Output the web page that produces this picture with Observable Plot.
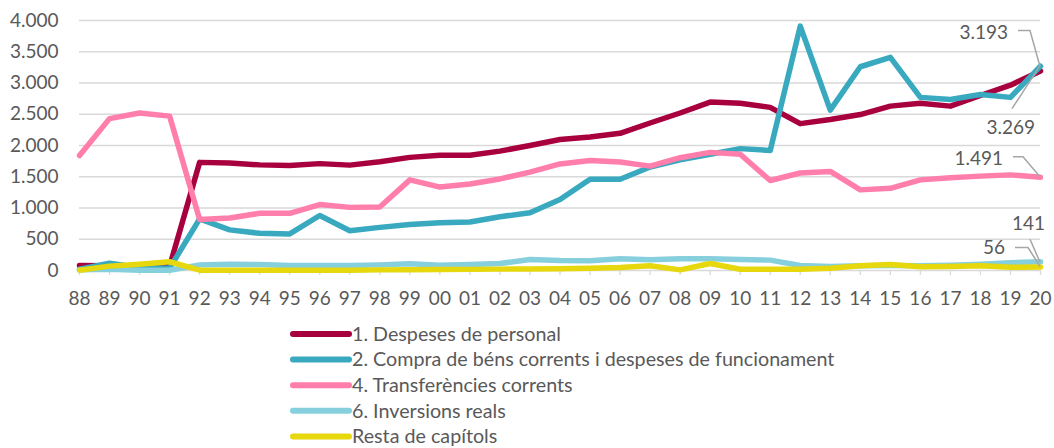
<!DOCTYPE html>
<html><head><meta charset="utf-8">
<script src="https://cdn.jsdelivr.net/npm/d3@7"></script>
<script src="https://cdn.jsdelivr.net/npm/@observablehq/plot@0.6"></script>
<style>
body{margin:0;background:#fff;font-family:Lato,sans-serif}
#wrap{position:relative;width:1054px;height:448px;overflow:hidden}
</style>
</head><body><div id="wrap"></div>
<script>
const years = d3.range(1988, 2021);
const despesesPersonal = [80,75,70,65,1730,1720,1690,1680,1710,1686,1740,1810,1845,1845,1910,2000,2095,2135,2195,2360,2520,2695,2675,2610,2350,2415,2495,2630,2675,2630,2800,2965,3193];
const compraBens = [20,115,50,35,825,650,595,585,880,635,690,735,765,775,860,925,1135,1460,1460,1655,1770,1860,1950,1920,3910,2565,3260,3410,2770,2735,2815,2770,3269];
const transferencies = [1840,2430,2520,2470,815,840,915,915,1055,1010,1015,1450,1335,1385,1465,1575,1705,1760,1735,1670,1805,1890,1860,1440,1560,1585,1290,1315,1450,1485,1510,1530,1491];
const inversions = [10,20,5,5,90,100,96,80,80,80,90,107,85,96,112,177,160,155,187,171,187,187,177,166,80,64,75,80,75,85,100,123,141];
const restaCapitols = [5,70,100,140,5,5,5,5,5,5,10,12,15,18,22,25,27,37,48,75,10,112,21,21,21,37,75,96,59,64,75,53,56];
const seriesNames = ["1. Despeses de personal","2. Compra de béns corrents i despeses de funcionament","4. Transferències corrents","6. Inversions reals","Resta de capítols"];
const seriesValues = [despesesPersonal, compraBens, transferencies, inversions, restaCapitols];
const seriesColors = ["#a8003e","#38a9bf","#ff7eab","#86cfdc","#e6d80c"];
const yTicks = [0,500,1000,1500,2000,2500,3000,3500,4000];

// annotations: series index, pixel offsets for label and leader path
const annotations = [
  {s:0, label:"3.193", dx:-32, dy:-38, path:[[-22,-40],[-10,-40],[0,-4]]},
  {s:1, label:"3.269", dx:-5, dy:62, path:[[-28,43],[0,0]]},
  {s:2, label:"1.491", dx:-37, dy:-18, path:[[-27,-20],[-17,-20],[0,0]]},
  {s:3, label:"141", dx:5, dy:-38, path:[[-10,-22],[0,1]]},
  {s:4, label:"56", dx:-35, dy:-19, path:[[-25,-19],[-12,-19],[0,0]]}
];

const rows = [];
seriesNames.forEach((name, i) => years.forEach((yr, j) => rows.push({series: name, year: yr, value: seriesValues[i][j]})));

const loc = d3.formatLocale({decimal: ",", thousands: ".", grouping: [3], currency: ["", ""]});
const fmt = loc.format(",");

const lastYear = years[years.length - 1];
const annotMark = (index, scales) => {
  const g = d3.create("svg:g");
  for (const a of annotations) {
    const v = seriesValues[a.s][seriesValues[a.s].length - 1];
    const px = scales.x(lastYear), py = scales.y(v);
    g.append("path")
      .attr("d", d3.line()(a.path.map(([dx, dy]) => [px + dx, py + dy])))
      .attr("fill", "none").attr("stroke", "#a6a6a6").attr("stroke-width", 1.5);
    g.append("text")
      .attr("x", px + a.dx).attr("y", py + a.dy).attr("dy", "0.35em")
      .attr("text-anchor", "end").attr("fill", "#595959")
      .attr("font-size", 19).text(a.label);
  }
  return g.node();
};

// legend drawn below the plot frame
const legendMark = (index, scales, values, dims) => {
  const g = d3.create("svg:g");
  const top = dims.height - dims.marginBottom + 64;
  seriesNames.forEach((name, i) => {
    const y = top + i * 25.6;
    g.append("line").attr("x1", 293).attr("x2", 349).attr("y1", y).attr("y2", y)
      .attr("stroke", seriesColors[i]).attr("stroke-width", 6).attr("stroke-linecap", "round");
    g.append("text").attr("x", 352).attr("y", y).attr("dy", "0.35em")
      .attr("text-anchor", "start")
      .attr("fill", "#595959").attr("font-size", 19.7).text(name);
  });
  return g.node();
};

const chart = Plot.plot({
  width: 1054,
  height: 448,
  marginTop: 20,
  marginBottom: 178,
  marginLeft: 79,
  marginRight: 14,
  style: {fontFamily: "Lato, sans-serif", fontSize: "19px", color: "#595959", background: "#fff", overflow: "visible"},
  x: {domain: [years[0], lastYear]},
  y: {domain: [0, 4000]},
  color: {domain: seriesNames, range: seriesColors},
  marks: [
    Plot.gridY(yTicks, {stroke: "#d9d9d9", strokeOpacity: 1, strokeWidth: 1.3}),
    Plot.axisY(yTicks, {tickSize: 0, tickPadding: 21, tickFormat: fmt, label: null}),
    Plot.axisX(years, {tickSize: 5, tickPadding: 16, stroke: "#d9d9d9", fill: "#595959", strokeWidth: 1.3, tickFormat: d => String(d % 100).padStart(2, "0"), label: null}),
    Plot.line(rows, {x: "year", y: "value", z: "series", stroke: "series", strokeWidth: 5.5, strokeLinejoin: "round", strokeLinecap: "round"}),
    annotMark,
    legendMark
  ]
});
document.getElementById("wrap").appendChild(chart);
</script>
</body></html>
